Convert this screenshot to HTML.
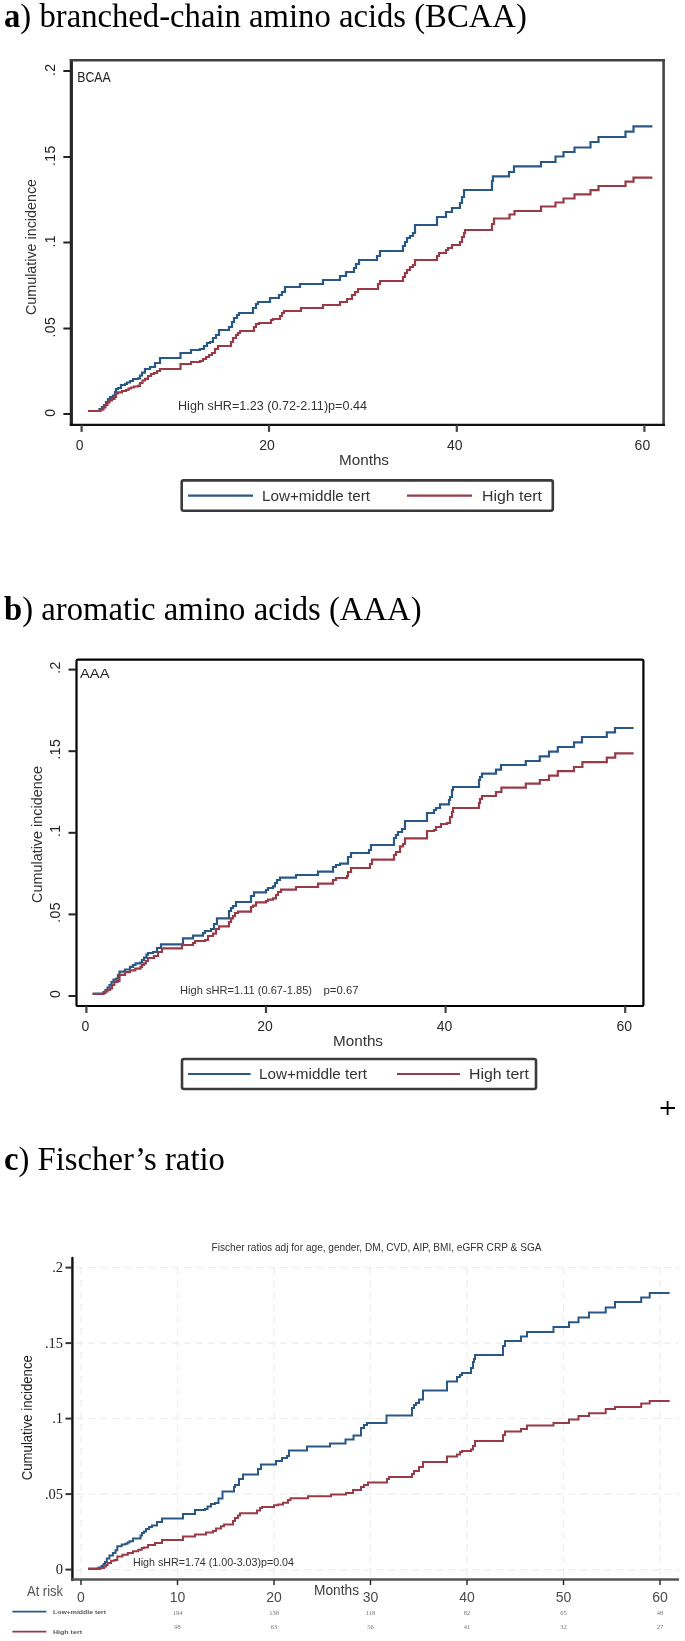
<!DOCTYPE html>
<html><head><meta charset="utf-8"><style>
html,body{margin:0;padding:0;background:#fff;width:685px;height:1641px;overflow:hidden}
svg{display:block;filter:blur(0.45px)}
</style></head><body>
<svg width="685" height="1641" viewBox="0 0 685 1641">
<rect width="685" height="1641" fill="#fff"/>
<text x="4" y="27" font-family="Liberation Serif, serif" font-size="32.7" fill="#000"><tspan font-weight="bold">a</tspan>) branched-chain amino acids (BCAA)</text>
<text x="4" y="619.5" font-family="Liberation Serif, serif" font-size="32.7" fill="#000"><tspan font-weight="bold">b</tspan>) aromatic amino acids (AAA)</text>
<text x="4" y="1170.3" font-family="Liberation Serif, serif" font-size="32.7" fill="#000"><tspan font-weight="bold">c</tspan>) Fischer’s ratio</text>
<line x1="71.35" y1="59.0" x2="71.35" y2="426.09999999999997" stroke="#262626" stroke-width="3.2"/>
<line x1="69.75" y1="60.3" x2="664.9" y2="60.3" stroke="#404040" stroke-width="2.6"/>
<line x1="663.6" y1="59.0" x2="663.6" y2="426.09999999999997" stroke="#444" stroke-width="2.6"/>
<line x1="69.75" y1="424.9" x2="664.9" y2="424.9" stroke="#111" stroke-width="2.4"/>
<line x1="63.349999999999994" y1="71" x2="71.35" y2="71" stroke="#222" stroke-width="2"/>
<text transform="translate(54.5 69.7) rotate(-90)" text-anchor="middle" font-family="Liberation Sans, sans-serif" font-size="14" fill="#222" letter-spacing="0.4">.2</text>
<line x1="63.349999999999994" y1="157" x2="71.35" y2="157" stroke="#222" stroke-width="2"/>
<text transform="translate(54.5 155.7) rotate(-90)" text-anchor="middle" font-family="Liberation Sans, sans-serif" font-size="14" fill="#222" letter-spacing="0.4">.15</text>
<line x1="63.349999999999994" y1="242.5" x2="71.35" y2="242.5" stroke="#222" stroke-width="2"/>
<text transform="translate(54.5 241.2) rotate(-90)" text-anchor="middle" font-family="Liberation Sans, sans-serif" font-size="14" fill="#222" letter-spacing="0.4">.1</text>
<line x1="63.349999999999994" y1="328.5" x2="71.35" y2="328.5" stroke="#222" stroke-width="2"/>
<text transform="translate(54.5 327.2) rotate(-90)" text-anchor="middle" font-family="Liberation Sans, sans-serif" font-size="14" fill="#222" letter-spacing="0.4">.05</text>
<line x1="63.349999999999994" y1="414" x2="71.35" y2="414" stroke="#222" stroke-width="2"/>
<text transform="translate(54.5 412.7) rotate(-90)" text-anchor="middle" font-family="Liberation Sans, sans-serif" font-size="14" fill="#222" letter-spacing="0.4">0</text>
<line x1="81.6" y1="424.9" x2="81.6" y2="431.9" stroke="#444" stroke-width="2.2"/>
<text x="79.6" y="449.9" text-anchor="middle" font-family="Liberation Sans, sans-serif" font-size="14" fill="#2a2a2a">0</text>
<line x1="269" y1="424.9" x2="269" y2="431.9" stroke="#444" stroke-width="2.2"/>
<text x="267" y="449.9" text-anchor="middle" font-family="Liberation Sans, sans-serif" font-size="14" fill="#2a2a2a">20</text>
<line x1="456.8" y1="424.9" x2="456.8" y2="431.9" stroke="#444" stroke-width="2.2"/>
<text x="454.8" y="449.9" text-anchor="middle" font-family="Liberation Sans, sans-serif" font-size="14" fill="#2a2a2a">40</text>
<line x1="644.4" y1="424.9" x2="644.4" y2="431.9" stroke="#444" stroke-width="2.2"/>
<text x="642.4" y="449.9" text-anchor="middle" font-family="Liberation Sans, sans-serif" font-size="14" fill="#2a2a2a">60</text>
<text transform="translate(35.5 247) rotate(-90)" text-anchor="middle" font-family="Liberation Sans, sans-serif" font-size="14" fill="#333" textLength="136" lengthAdjust="spacingAndGlyphs">Cumulative incidence</text>
<text x="77.2" y="81.8" font-family="Liberation Sans, sans-serif" font-size="14" fill="#222" textLength="33.5" lengthAdjust="spacingAndGlyphs">BCAA</text>
<text x="178" y="410" font-family="Liberation Sans, sans-serif" font-size="12.5" fill="#333" textLength="189" lengthAdjust="spacingAndGlyphs">High sHR=1.23 (0.72-2.11)p=0.44</text>
<text x="339" y="465" font-family="Liberation Sans, sans-serif" font-size="15" fill="#333" textLength="50" lengthAdjust="spacingAndGlyphs">Months</text>
<rect x="181.7" y="480.4" width="371.09999999999997" height="30.400000000000034" rx="2" fill="#fff" stroke="#3a3a3a" stroke-width="2.6"/>
<line x1="188" y1="495.6" x2="253" y2="495.6" stroke="#2a5886" stroke-width="2.2"/>
<line x1="407" y1="495.6" x2="472" y2="495.6" stroke="#9a3a47" stroke-width="2.2"/>
<text x="262" y="500.6" font-family="Liberation Sans, sans-serif" font-size="14.3" fill="#333" textLength="108" lengthAdjust="spacingAndGlyphs">Low+middle tert</text>
<text x="482" y="500.6" font-family="Liberation Sans, sans-serif" font-size="14.3" fill="#333" textLength="60" lengthAdjust="spacingAndGlyphs">High tert</text>
<path d="M88 411H99.5V409H102V407H104V405H106V402H108V399H110V397H113V395.5H115V392H116V389H118V388H121V385H125V384H127V382.5H130V381H133V379H138V378.3H140V375.5H142V372.6H145V369H150V367H155V363H160V358H180.5V353H191V350H200V349H204V346H207V343H210V342H213V338H216V335H219V330H229V327H232V322H234V318H237V315H239V313H253V308H256V304H258V302H270V298H279V295H282V292H285V287H300V284H323V280H340V276H346V272H354V268H356V264H359V260H377V256H380V251H403V246H405V242H407V238H410V236H413V233H415V225H437V217H446V212H452V208H460V203H462V197H464V190H492V181H493V176.4H509V172H514V166.4H541V162H555.5V156.5H563.5V152H574.5V147.5H590.5V142H598.5V137H625.5V131.6H633.5V126.4H652.4" fill="none" stroke="#2a5886" stroke-width="2.2" stroke-linejoin="miter"/>
<path d="M88 411H99.5V410.5H101.5V409.5H103.5V407.5H105.5V405H107.5V402.5H109.5V400.5H112V399H114.5V397H116V393.5H118V392.3H122V391H126V390H128.5V388.5H131V387.5H134V386.5H138V385.8H140V383H142.5V380.5H145V378.8H148V376H151V374H154V373H157V371H160V369H180.5V364H191V362H200V361H203V359H206V357H209V355H212V353H215V349H218V346H231V342H233V338H236V335H238V333H240V331H254V327H256V324H259V323H271V320H273V319H280V316H282V313H284V311H301V308H323V305H340V302H347V299H352V295H355V292H358V289H378V284H380V281H403V277H405V273H407V270H410V267H413V265H415V260H437V256H439V253H446V250H448V248H452V245H460V242H462V237H464V233H465V230H492V224H494V218.5H509.5V214.5H514.5V211H541V206.5H555.5V202.5H563.5V198.5H574.5V194.3H590.5V190.2H598.5V186H625.5V181.6H633.5V177.6H652.4" fill="none" stroke="#9a3a47" stroke-width="2.2" stroke-linejoin="miter"/>
<rect x="76.5" y="659.6" width="566.9" height="346.4" rx="1.5" fill="none" stroke="#000" stroke-width="2.2" stroke-linejoin="round"/>
<line x1="68.5" y1="669.6" x2="76.5" y2="669.6" stroke="#222" stroke-width="2"/>
<text transform="translate(60 667.6) rotate(-90)" text-anchor="middle" font-family="Liberation Sans, sans-serif" font-size="14" fill="#222" letter-spacing="0.4">.2</text>
<line x1="68.5" y1="751.2" x2="76.5" y2="751.2" stroke="#222" stroke-width="2"/>
<text transform="translate(60 749.2) rotate(-90)" text-anchor="middle" font-family="Liberation Sans, sans-serif" font-size="14" fill="#222" letter-spacing="0.4">.15</text>
<line x1="68.5" y1="832.8" x2="76.5" y2="832.8" stroke="#222" stroke-width="2"/>
<text transform="translate(60 830.8) rotate(-90)" text-anchor="middle" font-family="Liberation Sans, sans-serif" font-size="14" fill="#222" letter-spacing="0.4">.1</text>
<line x1="68.5" y1="914.4" x2="76.5" y2="914.4" stroke="#222" stroke-width="2"/>
<text transform="translate(60 912.4) rotate(-90)" text-anchor="middle" font-family="Liberation Sans, sans-serif" font-size="14" fill="#222" letter-spacing="0.4">.05</text>
<line x1="68.5" y1="996" x2="76.5" y2="996" stroke="#222" stroke-width="2"/>
<text transform="translate(60 994) rotate(-90)" text-anchor="middle" font-family="Liberation Sans, sans-serif" font-size="14" fill="#222" letter-spacing="0.4">0</text>
<line x1="86.4" y1="1006" x2="86.4" y2="1013" stroke="#444" stroke-width="2.2"/>
<text x="85.4" y="1031" text-anchor="middle" font-family="Liberation Sans, sans-serif" font-size="14" fill="#2a2a2a">0</text>
<line x1="266" y1="1006" x2="266" y2="1013" stroke="#444" stroke-width="2.2"/>
<text x="265" y="1031" text-anchor="middle" font-family="Liberation Sans, sans-serif" font-size="14" fill="#2a2a2a">20</text>
<line x1="445.6" y1="1006" x2="445.6" y2="1013" stroke="#444" stroke-width="2.2"/>
<text x="444.6" y="1031" text-anchor="middle" font-family="Liberation Sans, sans-serif" font-size="14" fill="#2a2a2a">40</text>
<line x1="625.2" y1="1006" x2="625.2" y2="1013" stroke="#444" stroke-width="2.2"/>
<text x="624.2" y="1031" text-anchor="middle" font-family="Liberation Sans, sans-serif" font-size="14" fill="#2a2a2a">60</text>
<text transform="translate(42.2 834.5) rotate(-90)" text-anchor="middle" font-family="Liberation Sans, sans-serif" font-size="14" fill="#333" textLength="137" lengthAdjust="spacingAndGlyphs">Cumulative incidence</text>
<text x="80" y="678.3" font-family="Liberation Sans, sans-serif" font-size="12" fill="#222" textLength="29.5" lengthAdjust="spacingAndGlyphs">AAA</text>
<text x="180" y="994" font-family="Liberation Sans, sans-serif" font-size="11" fill="#333" textLength="132" lengthAdjust="spacingAndGlyphs">High sHR=1.11 (0.67-1.85)</text>
<text x="323.5" y="994" font-family="Liberation Sans, sans-serif" font-size="11" fill="#333" textLength="35" lengthAdjust="spacingAndGlyphs">p=0.67</text>
<text x="333" y="1046" font-family="Liberation Sans, sans-serif" font-size="15" fill="#333" textLength="50" lengthAdjust="spacingAndGlyphs">Months</text>
<rect x="182" y="1059" width="354" height="30" rx="2" fill="#fff" stroke="#3a3a3a" stroke-width="2.6"/>
<line x1="188" y1="1074.0" x2="250.6" y2="1074.0" stroke="#2a5886" stroke-width="2.2"/>
<line x1="397" y1="1074.0" x2="460" y2="1074.0" stroke="#9a3a47" stroke-width="2.2"/>
<text x="259" y="1079.0" font-family="Liberation Sans, sans-serif" font-size="14.3" fill="#333" textLength="108" lengthAdjust="spacingAndGlyphs">Low+middle tert</text>
<text x="469" y="1079.0" font-family="Liberation Sans, sans-serif" font-size="14.3" fill="#333" textLength="60" lengthAdjust="spacingAndGlyphs">High tert</text>
<path d="M92.6 993.6H103.5V992H105.5V990H107.5V987.5H109.5V985H111.5V982H113.5V979.6H116.5V978.5H118V975H119.5V971.7H125V969.5H130V966.9H133V965H135.5V963.4H140.5V962.5H142V960H144V957.6H146.5V954.6H148V953H153V952H157V948H161V944.4H183V938.4H193V935.6H203V933H205V931H211V929H214V924H217V918.4H229V911H231V908H233V906H236V902H251V896H254V892.4H266V890H268V888H273V886.4H275V883H277V880H280V877.6H296V875H318V871.6H333V867H336V865H340V863.6H348V857H351V853H369V850H371V845H394V838H396V835H398V832H402V829H405V821H427V813H434V810H436V808H440V804.4H449V800H450V797H452V790H453V787H479V780H480V777H482V773.6H496V769.6H501V765H525.8V761H539.8V756.4H549V751.6H557.8V747H574V742.4H582V737H606.8V732.4H615V728H633.6" fill="none" stroke="#2a5886" stroke-width="2.2" stroke-linejoin="miter"/>
<path d="M92.6 994H103.5V993H105.5V991.5H107.5V990H110V988.5H112V985H114.3V981.8H117.8V980.9H119.5V974.8H125V972.1H130V970.4H135.3V968.6H140.5V966.9H142V965H144V963.4H146V961H148V958H154V956H158V952H162V948.4H182V945H193V943H195V941H205V940H208V936H213V933.6H216V929H219V926.4H229V922H231V918.4H233V916H235V913H238V911.6H251V907H253V905.6H256V902.4H266V901H268V899.6H273V898.4H276V895H278V892H281V889.6H296V887H318V883.6H333V880H336V878H347V876H348V872H351V868H370V864H372V859.6H394V855H396V852H400V846.4H403V844H405V838.4H427V831H434V830H436V827H441V824H447V823H450V817H452V812H453V808H479V803H480V799H482V796H496V792H501.4V787.6H525.8V783.6H539.8V780H549V775.6H557.8V771.2H574V767H582.4V762.2H606.8V757.6H615.2V753.4H633.6" fill="none" stroke="#9a3a47" stroke-width="2.2" stroke-linejoin="miter"/>
<path d="M660.5 1108H675M667.6 1101V1115" stroke="#000" stroke-width="1.8"/>
<line x1="81.0" y1="1268" x2="81.0" y2="1576" stroke="#ededed" stroke-width="1.2" stroke-dasharray="7 5"/>
<line x1="177.5" y1="1268" x2="177.5" y2="1576" stroke="#ededed" stroke-width="1.2" stroke-dasharray="7 5"/>
<line x1="274.0" y1="1268" x2="274.0" y2="1576" stroke="#ededed" stroke-width="1.2" stroke-dasharray="7 5"/>
<line x1="370.5" y1="1268" x2="370.5" y2="1576" stroke="#ededed" stroke-width="1.2" stroke-dasharray="7 5"/>
<line x1="467.0" y1="1268" x2="467.0" y2="1576" stroke="#ededed" stroke-width="1.2" stroke-dasharray="7 5"/>
<line x1="563.5" y1="1268" x2="563.5" y2="1576" stroke="#ededed" stroke-width="1.2" stroke-dasharray="7 5"/>
<line x1="660.0" y1="1268" x2="660.0" y2="1576" stroke="#ededed" stroke-width="1.2" stroke-dasharray="7 5"/>
<line x1="76" y1="1569.6" x2="679" y2="1569.6" stroke="#ededed" stroke-width="1.2" stroke-dasharray="7 5"/>
<line x1="76" y1="1494.1" x2="679" y2="1494.1" stroke="#ededed" stroke-width="1.2" stroke-dasharray="7 5"/>
<line x1="76" y1="1418.6" x2="679" y2="1418.6" stroke="#ededed" stroke-width="1.2" stroke-dasharray="7 5"/>
<line x1="76" y1="1343.1" x2="679" y2="1343.1" stroke="#ededed" stroke-width="1.2" stroke-dasharray="7 5"/>
<line x1="76" y1="1267.6" x2="679" y2="1267.6" stroke="#ededed" stroke-width="1.2" stroke-dasharray="7 5"/>
<line x1="72.4" y1="1258" x2="72.4" y2="1580" stroke="#111" stroke-width="2.4" stroke-linecap="round"/>
<line x1="71.5" y1="1579.5" x2="679" y2="1579.5" stroke="#555" stroke-width="2.6"/>
<line x1="65.5" y1="1569.6" x2="72" y2="1569.6" stroke="#333" stroke-width="2"/>
<text x="63" y="1574.3999999999999" text-anchor="end" font-family="Liberation Serif, serif" font-size="14.5" fill="#222">0</text>
<line x1="65.5" y1="1494.1" x2="72" y2="1494.1" stroke="#333" stroke-width="2"/>
<text x="63" y="1498.8999999999999" text-anchor="end" font-family="Liberation Serif, serif" font-size="14.5" fill="#222">.05</text>
<line x1="65.5" y1="1418.6" x2="72" y2="1418.6" stroke="#333" stroke-width="2"/>
<text x="63" y="1423.3999999999999" text-anchor="end" font-family="Liberation Serif, serif" font-size="14.5" fill="#222">.1</text>
<line x1="65.5" y1="1343.1" x2="72" y2="1343.1" stroke="#333" stroke-width="2"/>
<text x="63" y="1347.8999999999999" text-anchor="end" font-family="Liberation Serif, serif" font-size="14.5" fill="#222">.15</text>
<line x1="65.5" y1="1267.6" x2="72" y2="1267.6" stroke="#333" stroke-width="2"/>
<text x="63" y="1272.3999999999999" text-anchor="end" font-family="Liberation Serif, serif" font-size="14.5" fill="#222">.2</text>
<line x1="81.0" y1="1580" x2="81.0" y2="1585" stroke="#222" stroke-width="1.4"/>
<text x="81.0" y="1602" text-anchor="middle" font-family="Liberation Sans, sans-serif" font-size="14" fill="#4a4a4a">0</text>
<line x1="177.5" y1="1580" x2="177.5" y2="1585" stroke="#222" stroke-width="1.4"/>
<text x="177.5" y="1602" text-anchor="middle" font-family="Liberation Sans, sans-serif" font-size="14" fill="#4a4a4a">10</text>
<line x1="274.0" y1="1580" x2="274.0" y2="1585" stroke="#222" stroke-width="1.4"/>
<text x="274.0" y="1602" text-anchor="middle" font-family="Liberation Sans, sans-serif" font-size="14" fill="#4a4a4a">20</text>
<line x1="370.5" y1="1580" x2="370.5" y2="1585" stroke="#222" stroke-width="1.4"/>
<text x="370.5" y="1602" text-anchor="middle" font-family="Liberation Sans, sans-serif" font-size="14" fill="#4a4a4a">30</text>
<line x1="467.0" y1="1580" x2="467.0" y2="1585" stroke="#222" stroke-width="1.4"/>
<text x="467.0" y="1602" text-anchor="middle" font-family="Liberation Sans, sans-serif" font-size="14" fill="#4a4a4a">40</text>
<line x1="563.5" y1="1580" x2="563.5" y2="1585" stroke="#222" stroke-width="1.4"/>
<text x="563.5" y="1602" text-anchor="middle" font-family="Liberation Sans, sans-serif" font-size="14" fill="#4a4a4a">50</text>
<line x1="660.0" y1="1580" x2="660.0" y2="1585" stroke="#222" stroke-width="1.4"/>
<text x="660.0" y="1602" text-anchor="middle" font-family="Liberation Sans, sans-serif" font-size="14" fill="#4a4a4a">60</text>
<text x="376.5" y="1251" text-anchor="middle" font-family="Liberation Sans, sans-serif" font-size="10.3" fill="#333" textLength="330" lengthAdjust="spacingAndGlyphs">Fischer ratios adj for age, gender, DM, CVD, AIP, BMI, eGFR CRP &amp; SGA</text>
<text transform="translate(31.8 1417.7) rotate(-90)" text-anchor="middle" font-family="Liberation Sans, sans-serif" font-size="14" fill="#222" textLength="125" lengthAdjust="spacingAndGlyphs">Cumulative incidence</text>
<text x="133" y="1566" font-family="Liberation Sans, sans-serif" font-size="11" fill="#333" textLength="161" lengthAdjust="spacingAndGlyphs">High sHR=1.74 (1.00-3.03)p=0.04</text>
<text x="314" y="1595" font-family="Liberation Sans, sans-serif" font-size="14" fill="#3a3a3a" textLength="45" lengthAdjust="spacingAndGlyphs">Months</text>
<text x="27" y="1596" font-family="Liberation Sans, sans-serif" font-size="14" fill="#555" textLength="36" lengthAdjust="spacingAndGlyphs">At risk</text>
<line x1="12.4" y1="1611.6" x2="46.4" y2="1611.6" stroke="#2a5886" stroke-width="1.8"/>
<line x1="12.4" y1="1631.7" x2="46.4" y2="1631.7" stroke="#9a3a47" stroke-width="1.8"/>
<text x="53" y="1614" font-family="Liberation Sans, sans-serif" font-size="5.5" font-weight="bold" fill="#555" textLength="53" lengthAdjust="spacingAndGlyphs">Low+middle tert</text>
<text x="53" y="1633.5" font-family="Liberation Sans, sans-serif" font-size="5.5" font-weight="bold" fill="#555" textLength="29" lengthAdjust="spacingAndGlyphs">High tert</text>
<text x="177.5" y="1614.5" text-anchor="middle" font-family="Liberation Serif, serif" font-size="6.5" fill="#777">194</text>
<text x="177.5" y="1629" text-anchor="middle" font-family="Liberation Serif, serif" font-size="6.5" fill="#777">98</text>
<text x="274.0" y="1614.5" text-anchor="middle" font-family="Liberation Serif, serif" font-size="6.5" fill="#777">138</text>
<text x="274.0" y="1629" text-anchor="middle" font-family="Liberation Serif, serif" font-size="6.5" fill="#777">63</text>
<text x="370.5" y="1614.5" text-anchor="middle" font-family="Liberation Serif, serif" font-size="6.5" fill="#777">118</text>
<text x="370.5" y="1629" text-anchor="middle" font-family="Liberation Serif, serif" font-size="6.5" fill="#777">56</text>
<text x="467.0" y="1614.5" text-anchor="middle" font-family="Liberation Serif, serif" font-size="6.5" fill="#777">82</text>
<text x="467.0" y="1629" text-anchor="middle" font-family="Liberation Serif, serif" font-size="6.5" fill="#777">41</text>
<text x="563.5" y="1614.5" text-anchor="middle" font-family="Liberation Serif, serif" font-size="6.5" fill="#777">65</text>
<text x="563.5" y="1629" text-anchor="middle" font-family="Liberation Serif, serif" font-size="6.5" fill="#777">32</text>
<text x="660.0" y="1614.5" text-anchor="middle" font-family="Liberation Serif, serif" font-size="6.5" fill="#777">48</text>
<text x="660.0" y="1629" text-anchor="middle" font-family="Liberation Serif, serif" font-size="6.5" fill="#777">27</text>
<path d="M88 1568.4H98.5V1567.5H101.5V1566H103.5V1564H105V1562H106.8V1558.6H109.4V1555.5H112.9V1552.9H115.5V1550.3H117.3V1546.3H121.7V1544.6H125.2V1543.7H127.5V1542.5H129.5V1541.2H133V1538.6H140.5V1535.5H142V1533H144V1531.5H146V1529H149V1527H152V1525.6H157V1522H162V1518.4H183V1514H195V1510H205V1509H207.5V1506.4H211V1504H215V1503H218.5V1498.5H222.5V1491.5H234V1487H235V1485H239V1479H243V1474.4H258V1469H261V1464.4H276V1461H282V1458H287V1456H289V1450.4H307V1446.4H330V1443.6H345.5V1439.6H353.5V1435.6H361V1428H364V1425H367V1423H386.5V1415.6H412V1408H414V1405H416V1403H419V1399.6H423V1390.4H447V1381.6H457V1377H460V1375H462V1373H471V1368H473V1362H474V1359H475V1355H503V1346H505V1341H521V1336.4H527V1332H553.5V1327H569V1322.2H578.5V1317.6H589V1312.4H605.7V1307.6H615V1302H641.2V1297.6H649.7V1293H669.6" fill="none" stroke="#2a5886" stroke-width="2"/>
<path d="M88 1569H100V1568H104V1566.5H106V1565H107.6V1563H111.1V1560.8H114.6V1559.9H117.3V1556.4H122.5V1554.7H127.8V1552.9H133V1551.2H138.3V1549.8H141.8V1548.1H144V1547.5H148V1545H155V1543H162V1540H183V1536.5H195V1534.5H206V1532.5H213V1531H216V1528.5H221V1526.3H224V1524.5H233V1521H235V1518H238V1515.5H240V1513.2H257V1510.5H260V1508H262V1507H274V1505.3H278V1504.4H283V1502.7H288V1500H290.5V1498.3H308V1496.2H331V1494.4H346V1493H353V1490H361V1487H364V1485H368V1482.4H387V1479H389V1477H412V1474H414V1471H419V1467H423V1462H447V1456.6H457V1454.5H460V1452H462V1451H471V1449.6H473V1446H475V1441H503V1435H505V1431.6H521V1429H527V1425.6H553.5V1423H569V1419.6H578.5V1416H589V1413.2H605.7V1409H615V1407H641.2V1403.6H649.7V1401H669.6" fill="none" stroke="#9a3a47" stroke-width="2"/>
</svg>
</body></html>
